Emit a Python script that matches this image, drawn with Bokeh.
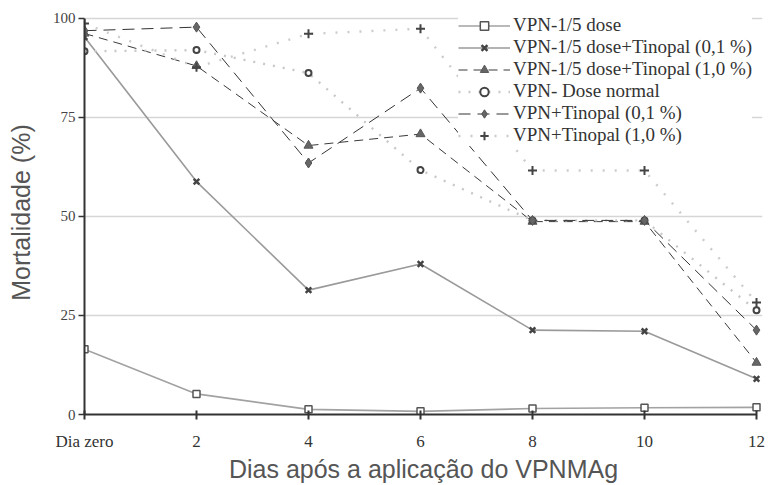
from bokeh.plotting import figure
from bokeh.models import Range1d, FixedTicker, Legend, LegendItem
from bokeh.embed import file_html
from bokeh.resources import INLINE

# ---- data ----
days = [0, 2, 4, 6, 8, 10, 12]
x_labels = ["Dia zero", "2", "4", "6", "8", "10", "12"]
y_ticks = [0, 25, 50, 75, 100]
grid_ticks = [25, 50, 75, 100]

names = [
    "VPN-1/5 dose",
    "VPN-1/5 dose+Tinopal (0,1 %)",
    "VPN-1/5 dose+Tinopal (1,0 %)",
    "VPN- Dose normal",
    "VPN+Tinopal (0,1 %)",
    "VPN+Tinopal (1,0 %)",
]
vpn_15 = [16.5, 5.2, 1.3, 0.8, 1.5, 1.7, 1.8]
vpn_15_tin01 = [95.3, 58.8, 31.4, 38.0, 21.3, 21.0, 9.0]
vpn_15_tin10 = [96.2, 88.0, 67.9, 70.8, 48.7, 48.7, 13.1]
vpn_normal = [91.7, 92.0, 86.2, 61.7, 49.0, 49.0, 26.3]
vpn_tin01 = [96.9, 97.8, 63.5, 82.4, 49.0, 49.0, 21.3]
vpn_tin10 = [98.7, 87.7, 96.1, 97.4, 61.6, 61.6, 28.3]
series = [vpn_15, vpn_15_tin01, vpn_15_tin10, vpn_normal, vpn_tin01, vpn_tin10]

# ---- styles ----
line_styles = [
    dict(line_color="#a2a2a2", line_width=1.6, line_dash="solid"),
    dict(line_color="#9a9a9a", line_width=1.6, line_dash="solid"),
    dict(line_color="#3a3a3a", line_width=1.0, line_dash="9 6"),
    dict(line_color="#c8c8c8", line_width=2.4, line_dash="2 8"),
    dict(line_color="#333333", line_width=1.0, line_dash="12 7"),
    dict(line_color="#cccccc", line_width=2.4, line_dash="2 10"),
]
marker_styles = [
    dict(marker="square", size=7, line_color="#555555", line_width=1.5, fill_color="white"),
    dict(marker="x", size=8, line_color="#444444", line_width=2.5),
    dict(marker="triangle", size=9, line_color="#555555", line_width=1, fill_color="#666666"),
    dict(marker="circle", size=6, line_color="#444444", line_width=2, fill_color="white"),
    dict(marker="diamond", size=10, line_color="#555555", line_width=1, fill_color="#666666"),
    dict(marker="cross", size=9, line_color="#444444", line_width=2),
]

p = figure(
    width=770, height=485,
    x_range=Range1d(0, 12.107), y_range=Range1d(0, 102),
    output_backend="svg", toolbar_location=None,
    min_border_left=84, min_border_right=8, min_border_top=10, min_border_bottom=71,
)
p.outline_line_color = None
p.background_fill_color = "white"

# x axis
xa = p.xaxis[0]
xa.ticker = FixedTicker(ticks=days)
xa.major_label_overrides = {d: lab for d, lab in zip(days, x_labels)}
xa.bounds = (0, 12)
xa.axis_line_width = 2
xa.axis_line_color = "#333333"
xa.major_tick_line_color = "#333333"
xa.major_tick_line_width = 2
xa.major_tick_in = 4
xa.major_tick_out = 5
xa.minor_tick_line_color = None
xa.major_label_text_font = "Liberation Serif"
xa.major_label_text_font_size = "17px"
xa.major_label_text_color = "#333333"
xa.major_label_standoff = 12
xa.axis_label = "Dias após a aplicação do VPNMAg"
xa.axis_label_text_font = "Liberation Sans"
xa.axis_label_text_font_size = "25px"
xa.axis_label_text_font_style = "normal"
xa.axis_label_text_color = "#555555"
xa.axis_label_standoff = 1

# y axis
ya = p.yaxis[0]
ya.ticker = FixedTicker(ticks=y_ticks)
ya.bounds = (0, 100)
ya.axis_line_width = 2
ya.axis_line_color = "#333333"
ya.major_tick_line_color = "#333333"
ya.major_tick_line_width = 1.5
ya.major_tick_in = 0
ya.major_tick_out = 6
ya.minor_tick_line_color = None
ya.major_label_text_font = "Liberation Serif"
ya.major_label_text_font_size = "15px"
ya.major_label_text_color = "#444444"
ya.major_label_standoff = 3
ya.axis_label = "Mortalidade (%)"
ya.axis_label_text_font = "Liberation Sans"
ya.axis_label_text_font_size = "25px"
ya.axis_label_text_font_style = "normal"
ya.axis_label_text_color = "#555555"
ya.axis_label_standoff = 15

p.xgrid.visible = False
p.ygrid.ticker = FixedTicker(ticks=grid_ticks)
p.ygrid.grid_line_color = "#d6d6d6"
p.ygrid.grid_line_width = 1.5

line_rs = []
for vals, ls in zip(series, line_styles):
    line_rs.append(p.line(days, vals, **ls))
mark_rs = []
for vals, ms in zip(series, marker_styles):
    mark_rs.append(p.scatter(days, vals, **ms))

items = [LegendItem(label=n, renderers=[lr, mr]) for n, lr, mr in zip(names, line_rs, mark_rs)]
legend = Legend(
    items=items, location=(374, 268),
    background_fill_color="white", background_fill_alpha=1.0,
    border_line_color=None, padding=0, margin=0, spacing=0,
    glyph_width=52, glyph_height=21, label_height=21, label_standoff=3,
    label_text_font="Liberation Serif", label_text_font_size="19px",
    label_text_color="#333333",
)
p.add_layout(legend)

open("out.html", "w").write(file_html(p, INLINE))
